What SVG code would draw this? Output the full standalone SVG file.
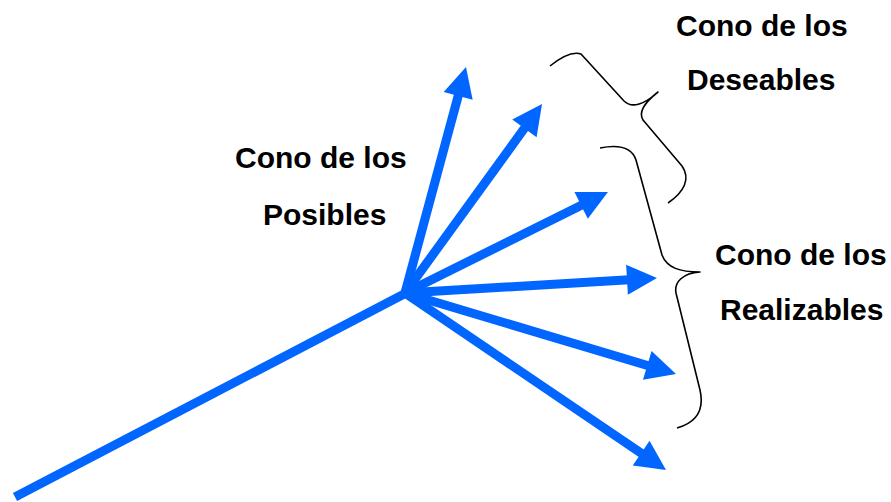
<svg xmlns="http://www.w3.org/2000/svg" width="891" height="502" viewBox="0 0 891 502">
<style>
.arr{stroke:#0066ff;stroke-width:9;fill:none;stroke-linecap:butt;marker-end:url(#head)}
.base{stroke:#0066ff;stroke-width:9;fill:none}
.brace{stroke:#000;stroke-width:1.6;fill:none;stroke-linejoin:round}
.lbl{font-family:"Liberation Sans",Arial,sans-serif;font-weight:bold;font-size:30px;fill:#000}
</style>
<defs>
<marker id="head" markerUnits="userSpaceOnUse" viewBox="0 -20 40 40" markerWidth="40" markerHeight="40" refX="2" refY="0" orient="auto" overflow="visible">
<path d="M0,-15 L30,0 L0,15 z" fill="#0066ff"/>
</marker>
</defs>
<g id="connectors">
<line class="base" x1="15" y1="497" x2="408" y2="292"/>
<line class="arr" x1="405" y1="293" x2="458.7" y2="94"/>
<line class="arr" x1="405" y1="293" x2="525.6" y2="126.7"/>
<line class="arr" x1="405" y1="293" x2="582.9" y2="204.5"/>
<line class="arr" x1="405" y1="293" x2="629" y2="279.7"/>
<line class="arr" x1="405" y1="293" x2="649.2" y2="366"/>
<line class="arr" x1="405" y1="293" x2="642.8" y2="454.3"/>
</g>
<g id="brace-deseables">
<path class="brace" d="M550,66 C560,58 572,51 581,54 L624,101 C632,109 645,104 658,92 C644,103 638,112 643,120 L682,166 C691,179 684,192 668,203"/>
</g>
<g id="brace-realizables">
<path class="brace" d="M600,148 C620,144 632,148 636,160 L662,255 C667,268 680,272 700,272 C683,273 674,282 676,293 L700,390 C705,412 695,423 677,428"/>
</g>
<g id="label-deseables">
<text class="lbl" x="676" y="36">Cono de los</text>
<text class="lbl" x="687" y="90">Deseables</text>
</g>
<g id="label-posibles">
<text class="lbl" x="235" y="168">Cono de los</text>
<text class="lbl" x="263" y="225">Posibles</text>
</g>
<g id="label-realizables">
<text class="lbl" x="715" y="265">Cono de los</text>
<text class="lbl" x="720" y="320">Realizables</text>
</g>
</svg>
